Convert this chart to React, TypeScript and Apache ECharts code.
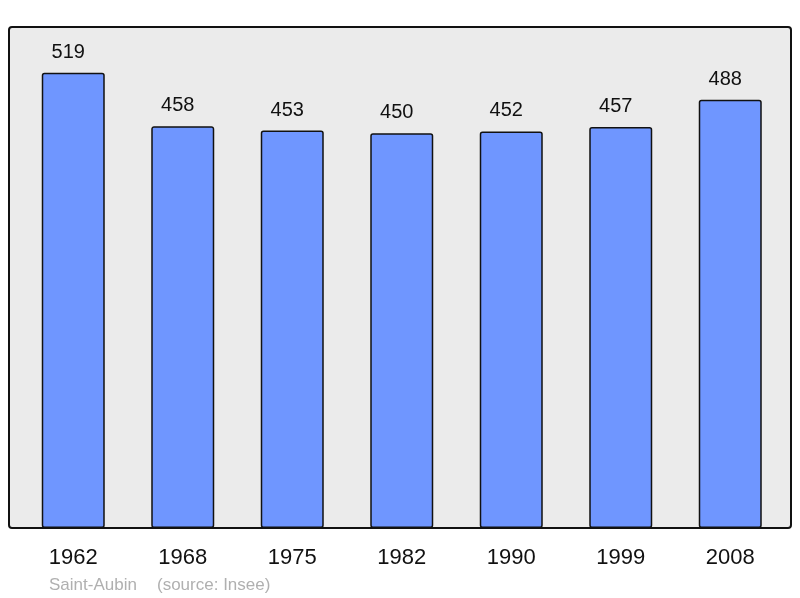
import React, { useEffect, useRef } from "react";
import * as echarts from "echarts";

const years = ["1962", "1968", "1975", "1982", "1990", "1999", "2008"];
const population = [519, 458, 453, 450, 452, 457, 488];
const footerName = "Saint-Aubin";
const footerSource = "(source: Insee)";

export default function App() {
  const ref = useRef<HTMLDivElement>(null);
  useEffect(() => {
    if (!ref.current) return;
    const chart = echarts.init(ref.current, null, { renderer: "svg" });
    chart.setOption({
      animation: false,
      textStyle: { fontFamily: "Liberation Sans, Arial, sans-serif" },
      graphic: [
        {
          type: "rect",
          z: -10,
          shape: { x: 9, y: 27, width: 782, height: 501, r: 3 },
          style: { fill: "#ebebeb", stroke: "#111", lineWidth: 2 },
        },
        {
          type: "text",
          x: 49,
          y: 593,
          style: {
            text: footerName,
            fill: "#b0b0b0",
            font: "17px 'Liberation Sans', Arial, sans-serif",
            textVerticalAlign: "bottom",
          },
        },
        {
          type: "text",
          x: 157,
          y: 593,
          style: {
            text: footerSource,
            fill: "#b0b0b0",
            font: "17px 'Liberation Sans', Arial, sans-serif",
            textVerticalAlign: "bottom",
          },
        },
      ],
      grid: { left: 18.5, right: 15, top: 27, bottom: 70, containLabel: false },
      xAxis: {
        type: "category",
        data: years,
        axisLine: { show: false },
        axisTick: { show: false },
        axisLabel: {
          color: "#111",
          fontSize: 22,
          margin: 17,
          fontFamily: "Liberation Sans, Arial, sans-serif",
        },
      },
      yAxis: {
        type: "value",
        min: 0,
        max: 571,
        show: false,
        splitLine: { show: false },
      },
      series: [
        {
          type: "bar",
          data: population,
          barWidth: 63,
          itemStyle: {
            color: "#6f96ff",
            borderColor: "#111",
            borderWidth: 1.5,
            borderRadius: 2,
          },
          label: {
            show: true,
            position: "top",
            distance: 12,
            offset: [-5, 0],
            color: "#111",
            fontSize: 20,
            fontFamily: "Liberation Sans, Arial, sans-serif",
          },
        },
      ],
    });
    return () => chart.dispose();
  }, []);
  return <div ref={ref} style={{ width: 800, height: 598, position: "fixed", left: 0, top: 0 }} />;
}
